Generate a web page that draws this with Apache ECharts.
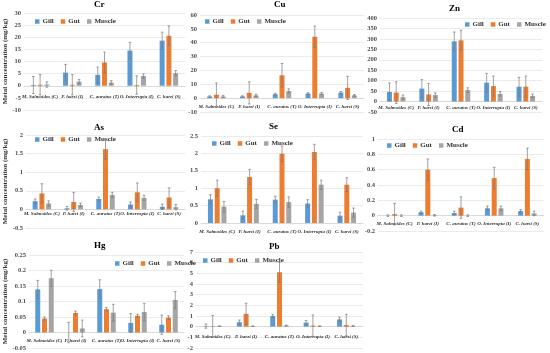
<!DOCTYPE html>
<html><head><meta charset="utf-8">
<script src="https://cdn.jsdelivr.net/npm/echarts@6/dist/echarts.min.js"></script>
<style>html,body{margin:0;padding:0;background:#fff}#c{width:550px;height:353px}</style>
</head><body><div id="c"></div>
<script>
const categories = ['M. Salmoides (C)', 'P. harzi (I)', 'C. auratus (T)', 'O. Interrupta (I)', 'C. harzi (S)'];
const seriesNames = ['Gill', 'Gut', 'Muscle'];

// Cr
const crGill = [0.3, 5.4, 4.5, 14.5, 18.6];
const crGut = [0.4, 0.4, 9.6, 0.3, 20.6];
const crMuscle = [0.5, 1.7, 1.3, 4.0, 5.2];
const crGillErr = [3.5, 3.4, 3.2, 3.4, 3.5];
const crGutErr = [4.2, 4.2, 4.3, 3.8, 4.1];
const crMuscleErr = [1.1, 0.9, 0.8, 0.9, 1.1];
const crAxis = [-10, 30, 5];
// Cu
const cuGill = [1.2, 1.2, 2.8, 3.3, 4.0];
const cuGut = [2.5, 3.8, 16.5, 44.3, 7.4];
const cuMuscle = [1.2, 2.0, 5.2, 3.3, 2.0];
const cuGillErr = [0.5, 0.5, 0.7, 0.6, 0.8];
const cuGutErr = [8.5, 8.0, 8.5, 7.7, 8.4];
const cuMuscleErr = [0.8, 0.8, 1.5, 0.8, 0.6];
const cuAxis = [-10, 60, 10];
// Zn
const znGill = [46, 62, 288, 90, 71];
const znGut = [43, 34, 293, 74, 71];
const znMuscle = [21, 31, 55, 37, 27];
const znGillErr = [43, 43, 45, 45, 45];
const znGutErr = [52, 53, 48, 48, 51];
const znMuscleErr = [10, 10, 11, 11, 9];
const znAxis = [-50, 400, 50];
// As
const asGill = [0.22, 0.03, 0.28, 0.13, 0.07];
const asGut = [0.43, 0.2, 1.62, 0.46, 0.32];
const asMuscle = [0.16, 0.12, 0.39, 0.31, 0.06];
const asGillErr = [0.06, 0.05, 0.05, 0.07, 0.07];
const asGutErr = [0.26, 0.26, 0.27, 0.25, 0.26];
const asMuscleErr = [0.07, 0.05, 0.07, 0.07, 0.07];
const asAxis = [-0.5, 2, 0.5];
// Se
const seGill = [0.68, 0.22, 0.67, 0.56, 0.21];
const seGut = [1.0, 1.32, 1.99, 2.04, 1.1];
const seMuscle = [0.47, 0.55, 0.6, 1.1, 0.3];
const seGillErr = [0.13, 0.12, 0.1, 0.11, 0.1];
const seGutErr = [0.23, 0.22, 0.22, 0.22, 0.2];
const seMuscleErr = [0.15, 0.13, 0.15, 0.13, 0.13];
const seAxis = [0, 2.5, 0.5];
// Cd
const cdGill = [0.0, 0.045, 0.035, 0.096, 0.06];
const cdGut = [0.02, 0.6, 0.105, 0.49, 0.74];
const cdMuscle = [0.0, 0.005, 0.0, 0.096, 0.03];
const cdGillErr = [0.01, 0.015, 0.025, 0.03, 0.02];
const cdGutErr = [0.14, 0.14, 0.14, 0.14, 0.14];
const cdMuscleErr = [0.01, 0.01, 0.01, 0.03, 0.03];
const cdAxis = [-0.2, 1, 0.2];
// Hg
const hgGill = [0.139, 0.0, 0.14, 0.031, 0.025];
const hgGut = [0.045, 0.063, 0.075, 0.054, 0.048];
const hgMuscle = [0.175, 0.013, 0.064, 0.066, 0.105];
const hgGillErr = [0.029, 0.033, 0.03, 0.03, 0.031];
const hgGutErr = [0.005, 0.006, 0.005, 0.005, 0.006];
const hgMuscleErr = [0.026, 0.027, 0.027, 0.028, 0.027];
const hgAxis = [-0.05, 0.25, 0.05];
// Pb
const pbGill = [0.05, 0.42, 1.0, 0.38, 0.68];
const pbGut = [0.05, 1.2, 5.1, 0.1, 0.15];
const pbMuscle = [0.05, 0.05, 0.1, 0.05, 0.07];
const pbGillErr = [0.2, 0.2, 0.15, 0.2, 0.22];
const pbGutErr = [1.0, 1.0, 0.95, 1.0, 1.0];
const pbMuscleErr = [0.03, 0.03, 0.04, 0.03, 0.03];
const pbAxis = [-2, 7, 1];

const colors = ['#5B9BD5', '#ED7D31', '#A5A5A5'];
const serif = '"Liberation Serif", "Times New Roman", serif';

const panels = [
  {t: 'Cr', m: [crGill, crGut, crMuscle], e: [crGillErr, crGutErr, crMuscleErr], ax: crAxis,
   grid: {left: 24, top: 13, width: 161, height: 97}, title: [100, 5], legend: [35, 18], lm: 8, yName: true},
  {t: 'Cu', m: [cuGill, cuGut, cuMuscle], e: [cuGillErr, cuGutErr, cuMuscleErr], ax: cuAxis,
   grid: {left: 200, top: 15, width: 164, height: 97}, title: [280, 5], legend: [205, 18], lm: 6},
  {t: 'Zn', m: [znGill, znGut, znMuscle], e: [znGillErr, znGutErr, znMuscleErr], ax: znAxis,
   grid: {left: 380, top: 18, width: 162, height: 94}, title: [455, 9], legend: [465, 21], lm: 4},
  {t: 'As', m: [asGill, asGut, asMuscle], e: [asGillErr, asGutErr, asMuscleErr], ax: asAxis,
   grid: {left: 26, top: 135, width: 159, height: 93}, title: [100, 128], legend: [35, 136], lm: 2, yName: true},
  {t: 'Se', m: [seGill, seGut, seMuscle], e: [seGillErr, seGutErr, seMuscleErr], ax: seAxis,
   grid: {left: 201, top: 136, width: 162, height: 87}, title: [275, 127], legend: [212, 140], lm: 6},
  {t: 'Cd', m: [cdGill, cdGut, cdMuscle], e: [cdGillErr, cdGutErr, cdMuscleErr], ax: cdAxis,
   grid: {left: 378, top: 139, width: 166, height: 92}, title: [458, 130], legend: [387, 142], lm: 6},
  {t: 'Hg', m: [hgGill, hgGut, hgMuscle], e: [hgGillErr, hgGutErr, hgMuscleErr], ax: hgAxis,
   grid: {left: 29, top: 255, width: 155, height: 93}, title: [100, 246], legend: [115, 260], lm: 6, yName: true},
  {t: 'Pb', m: [pbGill, pbGut, pbMuscle], e: [pbGillErr, pbGutErr, pbMuscleErr], ax: pbAxis,
   grid: {left: 196, top: 252, width: 167, height: 96}, title: [275, 247], legend: [203, 257], lm: 8}
];

const BW = 5, GAP = 0.35;
const step = BW * (1 + GAP);

const option = {
  animation: false,
  backgroundColor: '#fff',
  grid: [], xAxis: [], yAxis: [], series: [], legend: [], graphic: []
};

panels.forEach((p, i) => {
  option.grid.push(Object.assign({containLabel: false}, p.grid));
  const zeroOff = p.grid.height * (0 - p.ax[0]) / (p.ax[1] - p.ax[0]);
  option.xAxis.push({
    type: 'category', gridIndex: i, data: categories, position: 'bottom', offset: -zeroOff,
    axisLine: {onZero: false, lineStyle: {color: '#d9d9d9', width: 1}},
    axisTick: {show: false},
    axisLabel: {interval: 0, fontSize: 5, fontFamily: serif, fontWeight: 'bold', fontStyle: 'italic',
      color: '#333', margin: p.lm, hideOverlap: false}
  });
  option.yAxis.push({
    type: 'value', gridIndex: i, min: p.ax[0], max: p.ax[1], interval: p.ax[2],
    axisLine: {show: false}, axisTick: {show: false},
    splitLine: {lineStyle: {color: '#e3e3e3', width: 0.7}},
    axisLabel: {fontSize: 6.5, fontFamily: serif, fontWeight: 'bold', color: '#4d4d4d', margin: 3},
    name: p.yName ? 'Metal concentration (mg/kg)' : '',
    nameLocation: 'middle', nameRotate: 90, nameGap: 14,
    nameTextStyle: {fontSize: 7, fontFamily: serif, fontWeight: 'bold', color: '#333'}
  });
  p.m.forEach((vals, k) => {
    option.series.push({
      type: 'bar', name: seriesNames[k], xAxisIndex: i, yAxisIndex: i,
      data: vals, barWidth: BW, barGap: (GAP * 100) + '%',
      itemStyle: {color: colors[k]}
    });
  });
  const ed = [];
  p.m.forEach((vals, k) => vals.forEach((v, c) => ed.push([c, v, p.e[k][c], k])));
  option.series.push({
    type: 'custom', name: 'err' + i, xAxisIndex: i, yAxisIndex: i, data: ed, z: 5, clip: false,
    renderItem: function (params, api) {
      const c = api.value(0), m = api.value(1), e = api.value(2), k = api.value(3);
      const base = api.coord([c, m]);
      const x = base[0] + (k - 1) * step;
      const yt = api.coord([c, m + e])[1];
      const yb = api.coord([c, m - e])[1];
      const st = {stroke: '#7a7a7a', lineWidth: 0.7};
      return {type: 'group', children: [
        {type: 'line', shape: {x1: x, y1: yt, x2: x, y2: yb}, style: st},
        {type: 'line', shape: {x1: x - 1.3, y1: yt, x2: x + 1.3, y2: yt}, style: st},
        {type: 'line', shape: {x1: x - 1.3, y1: yb, x2: x + 1.3, y2: yb}, style: st}
      ]};
    }
  });
  option.legend.push({
    data: seriesNames, left: p.legend[0], top: p.legend[1], icon: 'rect',
    itemWidth: 4.5, itemHeight: 4.5, itemGap: 7, selectedMode: false,
    textStyle: {fontSize: 7, fontFamily: serif, fontWeight: 'bold', color: '#333', padding: [0, 0, 0, -2]},
    padding: 0
  });
  option.graphic.push({
    type: 'text', left: p.title[0] - 6, top: p.title[1] - 5,
    style: {text: p.t, font: 'bold 9px ' + serif, fill: '#000'}
  });
});

const chart = echarts.init(document.getElementById('c'), null, {renderer: 'canvas'});
chart.setOption(option);
</script>
</body></html>
